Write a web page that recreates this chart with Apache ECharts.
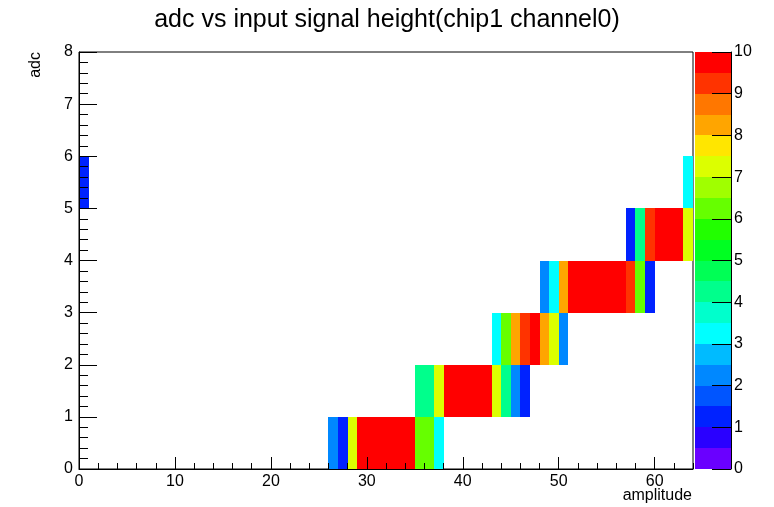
<!DOCTYPE html>
<html>
<head>
<meta charset="utf-8">
<script src="https://cdn.jsdelivr.net/npm/echarts@6/dist/echarts.min.js"></script>
<style>
html,body{margin:0;padding:0;background:#fff;}
#chart{width:774px;height:507px;}
</style>
</head>
<body>
<div id="chart"></div>
<script>
// ---- Data ----
const TITLE = 'adc vs input signal height(chip1 channel0)';
const X_NAME = 'amplitude';
const Y_NAME = 'adc';
const X_MIN = 0, X_MAX = 64;
const Y_MIN = 0, Y_MAX = 8;
const Z_MIN = 0, Z_MAX = 10, Z_STEP = 0.5;

// Each row: adc bin (y), first amplitude bin (x), then consecutive bin contents
const row0 = { y: 0, start: 26, values: [2, 1, 7, 10, 10, 10, 10, 10, 10, 6, 6, 3] };
const row1 = { y: 1, start: 35, values: [4, 4, 7, 10, 10, 10, 10, 10, 7, 4, 2, 1] };
const row2 = { y: 2, start: 43, values: [3, 6, 8, 9, 10, 8, 7, 2] };
const row3 = { y: 3, start: 48, values: [2, 3, 8, 10, 10, 10, 10, 10, 10, 9, 6, 1] };
const row4 = { y: 4, start: 57, values: [1, 4, 9, 10, 10, 10, 7] };
const row5a = { y: 5, start: 0, values: [1] };
const row5b = { y: 5, start: 63, values: [3] };
const ROWS = [row0, row1, row2, row3, row4, row5a, row5b];

// ROOT-like rainbow palette, 20 contours from 0 to 10 (low -> high)
const PALETTE = [
  '#6a00ff', '#2a00ff', '#0022ff', '#0055ff', '#0088ff',
  '#00bbff', '#00ffff', '#00ffcc', '#00ff8c', '#00ff55',
  '#00ff22', '#22ff00', '#66ff00', '#a0ff00', '#dcff00',
  '#ffe600', '#ffa500', '#ff7700', '#ff3300', '#ff0000'
];

// ---- build ----
const cells = [];
ROWS.forEach(r => r.values.forEach((v, i) => cells.push([r.start + i, r.y, v])));
const bar = PALETTE.map((c, i) => [0, i]);

function colorFor(v) {
  let idx = Math.floor((v - Z_MIN) / Z_STEP);
  idx = Math.max(0, Math.min(PALETTE.length - 1, idx));
  return PALETTE[idx];
}
function rectFrom(p0, p1, fill) {
  const x0 = Math.round(p0[0]), y0 = Math.round(p0[1]);
  const x1 = Math.round(p1[0]), y1 = Math.round(p1[1]);
  return { type: 'rect', shape: { x: x0, y: y0, width: x1 - x0, height: y1 - y0 }, style: { fill: fill } };
}

const FONT = 'Liberation Sans, Arial, sans-serif';
const FS = 16;
const chart = echarts.init(document.getElementById('chart'));
const option = {
  animation: false,
  backgroundColor: '#fff',
  title: {
    text: TITLE, left: 'center', top: 3,
    textStyle: { fontFamily: FONT, fontSize: 25, fontWeight: 'normal', color: '#000' }
  },
  grid: [
    { left: 79, right: 81, top: 52, bottom: 38, show: true, borderColor: '#000', borderWidth: 1, backgroundColor: 'transparent' },
    { left: 695, width: 36, top: 52, bottom: 38, show: false }
  ],
  xAxis: [
    {
      gridIndex: 0, type: 'value', min: X_MIN, max: X_MAX, interval: 10, position: 'bottom', z: 5,
      axisLine: { show: true, onZero: false, lineStyle: { color: '#000', width: 1 } },
      axisTick: { show: true, inside: true, length: 12, lineStyle: { color: '#000' } },
      axisLabel: { show: true, showMaxLabel: false, margin: 5, color: '#000', fontFamily: FONT, fontSize: FS },
      splitLine: { show: false }
    },
    {
      gridIndex: 0, type: 'value', min: X_MIN, max: X_MAX, interval: 2, position: 'bottom', z: 5,
      axisLine: { show: false, onZero: false },
      axisTick: { show: true, inside: true, length: 6, lineStyle: { color: '#000' } },
      axisLabel: { show: false },
      splitLine: { show: false }
    },
    {
      gridIndex: 1, type: 'value', min: 0, max: 1, show: false
    }
  ],
  yAxis: [
    {
      gridIndex: 0, type: 'value', min: Y_MIN, max: Y_MAX, interval: 1, z: 5,
      axisLine: { show: true, onZero: false, lineStyle: { color: '#000', width: 1 } },
      axisTick: { show: true, inside: true, length: 18, lineStyle: { color: '#000' } },
      minorTick: { show: true, splitNumber: 5, length: 9, lineStyle: { color: '#000' } },
      axisLabel: { margin: 6, color: '#000', fontFamily: FONT, fontSize: FS },
      splitLine: { show: false }
    },
    {
      gridIndex: 1, type: 'value', min: Z_MIN, max: Z_MAX, interval: 1, position: 'right', z: 5,
      axisLine: { show: true, onZero: false, lineStyle: { color: '#000', width: 1 } },
      axisTick: { show: true, inside: true, length: 19, lineStyle: { color: '#000' } },
      axisLabel: { margin: 3, color: '#000', fontFamily: FONT, fontSize: FS },
      splitLine: { show: false }
    }
  ],
  series: [
    {
      type: 'custom', xAxisIndex: 0, yAxisIndex: 0, data: cells, encode: { x: 0, y: 1 },
      clip: true, z: 1,
      renderItem: function (params, api) {
        const x = api.value(0), y = api.value(1), v = api.value(2);
        return rectFrom(api.coord([x, y + 1]), api.coord([x + 1, y]), colorFor(v));
      }
    },
    {
      type: 'custom', xAxisIndex: 2, yAxisIndex: 1, data: bar, encode: { x: 0, y: 1 }, z: 1,
      renderItem: function (params, api) {
        const i = api.value(1);
        return rectFrom(api.coord([0, Z_MIN + (i + 1) * Z_STEP]), api.coord([1, Z_MIN + i * Z_STEP]), PALETTE[i]);
      }
    }
  ],
  graphic: [
    { type: 'text', right: 82, top: 488, style: { text: X_NAME, fontFamily: FONT, fontSize: FS, fill: '#000', textAlign: 'right' } },
    { type: 'text', left: 28, top: 52, rotation: Math.PI / 2,
      style: { text: Y_NAME, fontFamily: FONT, fontSize: FS, fill: '#000', textAlign: 'right', textVerticalAlign: 'top' } }
  ]
};
chart.setOption(option);
</script>
</body>
</html>
